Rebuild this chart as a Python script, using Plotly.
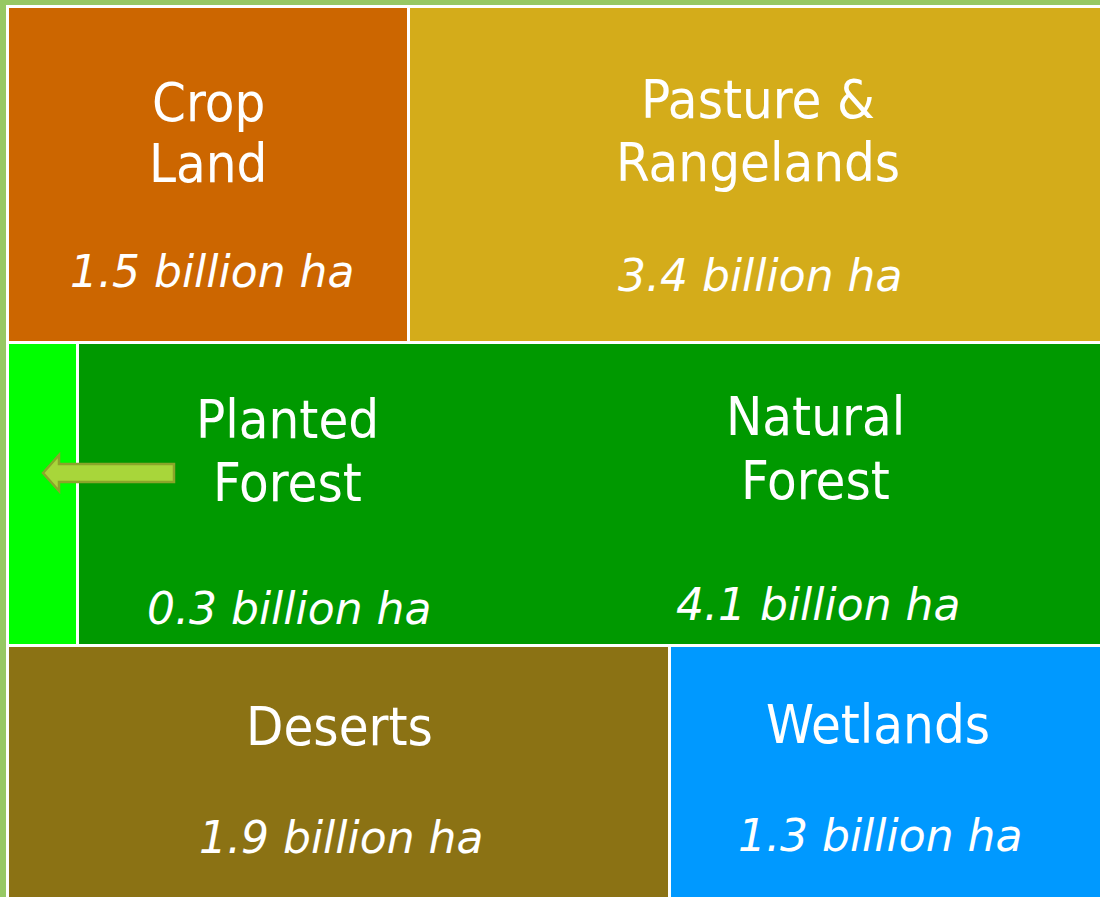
import plotly.graph_objects as go

# ---------------- data ----------------
categories = ["Crop Land", "Pasture & Rangelands", "Planted Forest",
              "Natural Forest", "Deserts", "Wetlands"]
label_lines = [["Crop", "Land"], ["Pasture &", "Rangelands"], ["Planted", "Forest"],
               ["Natural", "Forest"], ["Deserts"], ["Wetlands"]]
area_bn_ha = [1.5, 3.4, 0.3, 4.1, 1.9, 1.3]
value_unit = "billion ha"
row_of_cell = [0, 0, 1, 1, 2, 2]

# ---------------- layout geometry (pixels of the diagram) ----------------
cell_widths = [401, 693, 70, 1024, 662, 432]
row_heights = [336, 303, 253]
gap = 3
# label placement: x centre, y centre of each label line, y centre of value line
label_x = [202, 752, 281, 809, 333, 872]
label_y = [[97, 158], [94, 157], [414, 477], [411, 475], [721], [719]]
value_x = [206, 754, 283, 812, 335, 874]
value_y = [266, 270, 603, 599, 832, 830]

colors = ["#CC6600", "#D4AC1A", "#00FF00", "#009900", "#8B7214", "#0099FF"]
W = sum(cell_widths[:2])
H = sum(row_heights)

fig = go.Figure()
row_tops = [sum(row_heights[:i]) for i in range(len(row_heights))]
row_cursor = [0] * len(row_heights)
for i, cat in enumerate(categories):
    r = row_of_cell[i]
    start = row_cursor[r]
    row_cursor[r] += cell_widths[i]
    fig.add_trace(go.Bar(
        orientation="h",
        name=cat,
        base=[start + gap],
        x=[cell_widths[i] - gap],
        y=[row_tops[r] + gap + (row_heights[r] - gap) / 2],
        width=[row_heights[r] - gap],
        marker=dict(color=colors[i], line=dict(width=0)),
        hoverinfo="skip",
    ))

label_font = dict(family="DejaVu Sans Condensed, Liberation Sans, sans-serif",
                  size=54, color="white")
value_font = dict(family="DejaVu Sans, Verdana, sans-serif", size=44,
                  color="white", style="italic")

annotations = []
for i in range(len(categories)):
    for line, yy in zip(label_lines[i], label_y[i]):
        annotations.append(dict(x=label_x[i], y=yy, text=line, showarrow=False,
                                xref="x", yref="y", xanchor="center",
                                yanchor="middle", font=label_font))
    annotations.append(dict(x=value_x[i], y=value_y[i],
                            text=f"{area_bn_ha[i]:.1f} {value_unit}",
                            showarrow=False, xref="x", yref="y",
                            xanchor="center", yanchor="middle", font=value_font))

# left-pointing block arrow marking the planted forest strip
r1 = row_tops[1]
ax0 = cell_widths[2] - 33   # tip
ax1 = ax0 + 16              # head base
ax2 = ax0 + 131             # tail
ay = r1 + 132
arrow_path = (f"M {ax0},{ay} L {ax1},{ay-18} L {ax1},{ay-9} L {ax2},{ay-9} "
              f"L {ax2},{ay+9} L {ax1},{ay+9} L {ax1},{ay+18} Z")

fig.update_layout(
    width=1100, height=897,
    margin=dict(l=6, r=0, t=5, b=0, pad=0),
    paper_bgcolor="#97C864",
    plot_bgcolor="white",
    barmode="overlay",
    showlegend=False,
    xaxis=dict(range=[0, W], visible=False, fixedrange=True),
    yaxis=dict(range=[H, 0], visible=False, fixedrange=True),
    annotations=annotations,
    shapes=[dict(type="path", path=arrow_path, xref="x", yref="y",
                 fillcolor="#A8D63A", line=dict(color="#8AA52A", width=2.5))],
)

fig.write_html(
    "out.html",
    config={"displayModeBar": False},
    post_script="document.body.style.margin='0';document.body.style.overflow='hidden';",
)
